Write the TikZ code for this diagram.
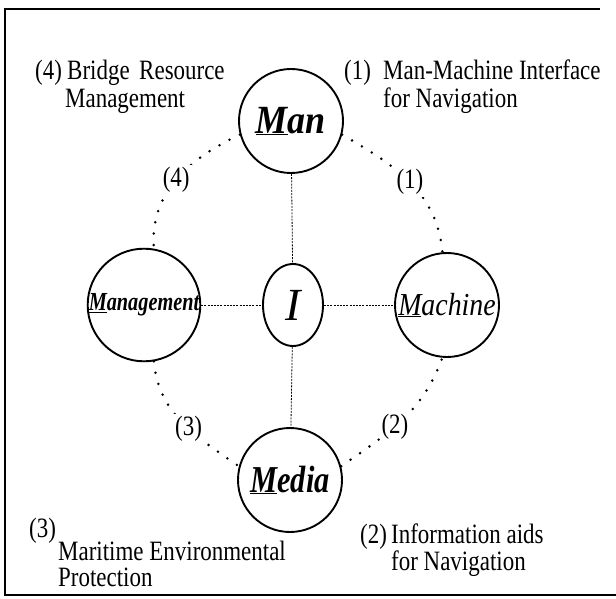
\documentclass[tikz,border=0pt]{standalone}
\usepackage{fontspec}
\setmainfont{Liberation Serif}
\usetikzlibrary{shapes.geometric}
\newcommand{\cnd}[2]{\scalebox{#1}[1]{#2}}
\tikzset{
  circ/.style={circle, draw, line width=1.9pt, minimum size=104pt, inner sep=0pt},
  lbl/.style={anchor=base west, inner sep=0pt, font=\fontsize{28}{30}\selectfont},
  arclbl/.style={fill=white, inner sep=2pt, font=\fontsize{28}{30}\selectfont},
  dotarc/.style={line width=2.8pt, line cap=round, dash pattern=on 0pt off 11.5pt},
  thinline/.style={line width=0.8pt, dash pattern=on 2pt off 1.2pt}
}
\begin{document}
\begin{tikzpicture}[x=1pt,y=1pt]
\useasboundingbox (0,0) rectangle (616,598);
% frame
\draw[line width=1.5pt] (600,589) -- (5,589) -- (5,3) -- (616,3);
% circles
\node[circ] (man) at (291,477) {\cnd{0.9}{\fontsize{40}{42}\selectfont\bfseries\itshape \underline{M}an}};
\node[circ] (mgmt) at (144,293) {\cnd{0.78}{\fontsize{26}{30}\selectfont\bfseries\itshape \underline{M}anagement}};
\node[circ] (mach) at (447,293) {\cnd{0.87}{\fontsize{32}{34}\selectfont\itshape \underline{M}achine}};
\node[circ] (media) at (290,118) {\cnd{0.8}{\fontsize{38}{40}\selectfont\bfseries\itshape \underline{M}edia}};
\node[ellipse, draw, line width=1.9pt, minimum width=60pt, minimum height=82pt, inner sep=0pt] (ii) at (293,293) {\fontsize{46}{48}\selectfont\itshape I};
% straight connectors
\draw[thinline] (man) -- (ii);
\draw[thinline] (ii) -- (media);
\draw[thinline] (mgmt) -- (ii);
\draw[thinline] (ii) -- (mach);
% dotted arcs
\draw[dotarc] (man.-15) to[out=-30, in=95] node[arclbl, pos=0.5] (l1) {\cnd{0.82}{(1)}} (mach.95);
\draw[dotarc] (man.195) to[out=205, in=95] node[arclbl, pos=0.5] (l4) {\cnd{0.82}{(4)}} (mgmt.80);
\draw[dotarc] (mgmt.-80) to[out=-85, in=145] node[arclbl, pos=0.57] (l3) {\cnd{0.82}{(3)}} (media.165);
\draw[dotarc] (media.15) to[out=35, in=-110] node[arclbl, pos=0.43] (l2) {\cnd{0.82}{(2)}} (mach.-95);
% texts
\node[lbl] (t4num) at (35,518) {\cnd{0.82}{(4)}};
\node[lbl] (t4a) at (67,518) {\cnd{0.82}{Bridge\, Resource}};
\node[lbl] (t4b) at (65,490) {\cnd{0.82}{Management}};
\node[lbl] (t1num) at (344,518) {\cnd{0.82}{(1)}};
\node[lbl] (t1a) at (383,518) {\cnd{0.82}{Man-Machine Interface}};
\node[lbl] (t1b) at (383,490) {\cnd{0.82}{for Navigation}};
\node[lbl] (t3num) at (29,61) {\cnd{0.82}{(3)}};
\node[lbl] (t3a) at (58,38) {\cnd{0.82}{Maritime Environmental}};
\node[lbl] (t3b) at (58,12) {\cnd{0.82}{Protection}};
\node[lbl] (t2num) at (360,55) {\cnd{0.82}{(2)}};
\node[lbl] (t2a) at (391,55) {\cnd{0.82}{Information aids}};
\node[lbl] (t2b) at (391,28) {\cnd{0.82}{for Navigation}};
\end{tikzpicture}
\end{document}
